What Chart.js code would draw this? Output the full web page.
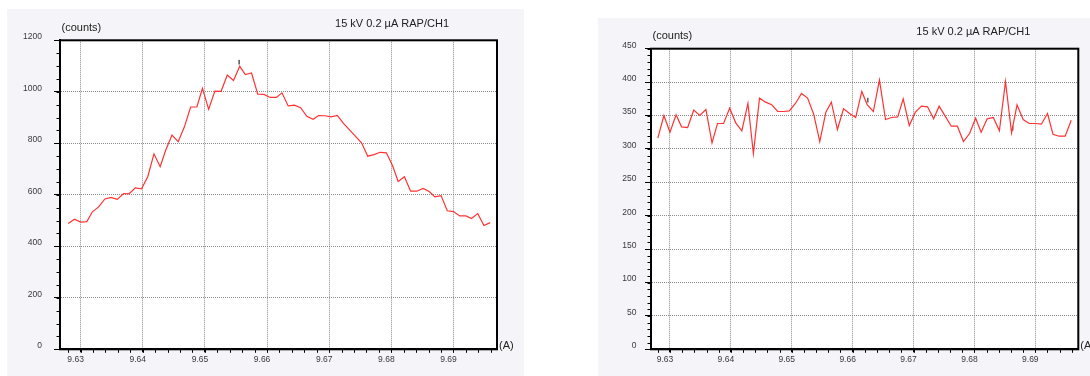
<!DOCTYPE html>
<html>
<head>
<meta charset="utf-8">
<script src="https://cdn.jsdelivr.net/npm/chart.js@4.4.0/dist/chart.umd.min.js"></script>
<style>
  body { margin: 0; background: #fff; width: 1090px; height: 376px; overflow: hidden; position: relative; }
  canvas { position: absolute; background: #f4f4f9; }
  #left { left: 7px; top: 9px; }
  #right { left: 598px; top: 18px; }
</style>
</head>
<body>
<canvas id="left" width="517" height="367"></canvas>
<canvas id="right" width="492" height="358"></canvas>
<script>
// wavelength (A) of each channel, shared by both scans
const wavelengths = [
  9.6280, 9.6290, 9.6300, 9.6310, 9.6319, 9.6329, 9.6339, 9.6349, 9.6359, 9.6369,
  9.6378, 9.6388, 9.6398, 9.6408, 9.6418, 9.6428, 9.6437, 9.6447, 9.6457, 9.6467,
  9.6477, 9.6487, 9.6496, 9.6506, 9.6516, 9.6526, 9.6536, 9.6546, 9.6556, 9.6565,
  9.6575, 9.6585, 9.6595, 9.6605, 9.6615, 9.6624, 9.6634, 9.6644, 9.6654, 9.6664,
  9.6674, 9.6683, 9.6693, 9.6703, 9.6713, 9.6723, 9.6733, 9.6742, 9.6752, 9.6762,
  9.6772, 9.6782, 9.6792, 9.6802, 9.6811, 9.6821, 9.6831, 9.6841, 9.6851, 9.6861,
  9.6870, 9.6880, 9.6890, 9.6900, 9.6910, 9.6920, 9.6929, 9.6939, 9.6949, 9.6959
];

// left scan: peak
const leftCounts = [
  489, 505, 494, 496, 534, 553, 584, 590, 582, 605,
  604, 627, 623, 670, 759, 709, 774, 832, 806, 864,
  941, 941, 1013, 932, 1003, 1002, 1065, 1044, 1099, 1067,
  1073, 991, 990, 978, 978, 996, 945, 948, 938, 905,
  893, 908, 907, 903, 908, 877, 851, 828, 802, 750,
  756, 765, 763, 713, 652, 670, 614, 614, 625, 613,
  592, 597, 538, 535, 518, 518, 508, 527, 481, 492
];

// right scan: background
const rightCounts = [
  316, 350, 325, 351, 333, 332, 358, 350, 359, 309,
  338, 338, 361, 339, 327, 368, 293, 376, 370, 366,
  356, 356, 357, 368, 383, 376, 352, 311, 355, 370,
  329, 360, 353, 347, 386, 366, 356, 403, 344, 347,
  348, 375, 335, 355, 364, 363, 345, 364, 349, 334,
  334, 311, 323, 346, 325, 345, 347, 327, 401, 324,
  366, 344, 338, 338, 337, 353, 322, 319, 319, 343
];

// small black cursor marks
const leftMarkX = [9.6555];
const leftMarkY = [1115];
const rightMarkX = [9.6625, 9.6863];
const rightMarkY = [373, 331];

const xTicks = [9.63, 9.64, 9.65, 9.66, 9.67, 9.68, 9.69];
const leftYTicks = [0, 200, 400, 600, 800, 1000, 1200];
const rightYTicks = [0, 50, 100, 150, 200, 250, 300, 350, 400, 450];

const titleText = '15 kV 0.2 µA RAP/CH1';
const yUnit = '(counts)';
const xUnit = '(A)';

Chart.defaults.font.family = '"Liberation Sans", Arial, sans-serif';

const framePlugin = {
  id: 'frame',
  beforeDraw(chart) {
    const {ctx, chartArea: a} = chart;
    ctx.save();
    ctx.fillStyle = '#fff';
    ctx.fillRect(a.left, a.top, a.right - a.left, a.bottom - a.top);
    ctx.restore();
  },
  afterDraw(chart, args, opts) {
    const {ctx, chartArea: a, scales: {x, y}} = chart;
    ctx.save();
    ctx.strokeStyle = '#000';
    ctx.lineWidth = 1;
    ctx.beginPath();
    // minor ticks
    for (let k = 0; k * opts.yMinor <= y.max; k++) {
      const py = Math.round(y.getPixelForValue(k * opts.yMinor)) + 0.5;
      ctx.moveTo(a.left - 3.5, py);
      ctx.lineTo(a.left, py);
    }
    const k0 = Math.ceil(x.min / opts.xMinor - 1e-6);
    const k1 = Math.floor(x.max / opts.xMinor + 1e-6);
    for (let k = k0; k <= k1; k++) {
      const px = Math.round(x.getPixelForValue(k * opts.xMinor)) + 0.5;
      ctx.moveTo(px, a.bottom);
      ctx.lineTo(px, a.bottom + 3.5);
    }
    ctx.stroke();
    ctx.lineWidth = 2;
    ctx.strokeRect(a.left, a.top, a.right - a.left, a.bottom - a.top);

    ctx.fillStyle = '#222';
    ctx.font = '11px "Liberation Sans", Arial, sans-serif';
    ctx.textBaseline = 'middle';
    ctx.textAlign = 'left';
    ctx.fillText(yUnit, a.left + 1.5, a.top - 12.3);
    ctx.fillText(xUnit, a.right + 2, a.bottom - 3.5);
    ctx.textAlign = 'right';
    ctx.fillText(titleText, a.right - 48, a.top - 16.4);
    ctx.restore();
  }
};

function makeChart(id, counts, markX, markY, yTicks, cfg) {
  const line = wavelengths.map((w, i) => ({x: w, y: counts[i]}));
  const marks = markX.map((w, i) => ({x: w, y: markY[i]}));
  return new Chart(document.getElementById(id), {
    type: 'line',
    data: {
      datasets: [{
        data: line,
        borderColor: '#ff3333',
        borderWidth: 1.2,
        pointRadius: 0,
        tension: 0,
        fill: false
      }, {
        type: 'scatter',
        data: marks,
        pointStyle: 'line',
        rotation: 90,
        pointRadius: 2.3,
        borderColor: '#000',
        borderWidth: 1
      }]
    },
    options: {
      responsive: false,
      animation: false,
      devicePixelRatio: 1,
      layout: {padding: {left: 0, top: cfg.padTop, right: cfg.padRight, bottom: 0}},
      plugins: {
        legend: {display: false},
        tooltip: {enabled: false},
        frame: {xMinor: 0.002, yMinor: cfg.yMinor}
      },
      scales: {
        x: {
          type: 'linear',
          min: cfg.xMin,
          max: cfg.xMax,
          afterBuildTicks: s => { s.ticks = xTicks.map(v => ({value: v})); },
          afterFit: s => { s.height = 26.7; },
          grid: {color: '#8a8a8a', lineWidth: 1, tickLength: 3, tickColor: '#000'},
          border: {color: '#000', width: 2, dash: [1, 1]},
          ticks: {
            font: {size: 8.5}, color: '#3a3a3a', padding: 2, labelOffset: -5,
            maxRotation: 0, autoSkip: false,
            callback: v => v.toFixed(2)
          }
        },
        y: {
          type: 'linear',
          min: 0,
          max: cfg.yMax,
          afterBuildTicks: s => { s.ticks = yTicks.map(v => ({value: v})); },
          afterFit: s => { s.width = 53; },
          grid: {color: '#8a8a8a', lineWidth: 1, tickLength: 6, tickColor: '#000'},
          border: {color: '#000', width: 2, dash: [1, 1]},
          ticks: {
            font: {size: 8.5}, color: '#3a3a3a', padding: cfg.yPad, labelOffset: -3.5,
            autoSkip: false,
            callback: v => String(v)
          }
        }
      }
    },
    plugins: [framePlugin]
  });
}

makeChart('left', leftCounts, leftMarkX, leftMarkY, leftYTicks,
  {xMin: 9.62668, xMax: 9.6970, yMax: 1200, yMinor: 50, padTop: 31.3, padRight: 27, yPad: 12});
makeChart('right', rightCounts, rightMarkX, rightMarkY, rightYTicks,
  {xMin: 9.62688, xMax: 9.69706, yMax: 450, yMinor: 10, padTop: 30.7, padRight: 11.7, yPad: 8.5});
</script>
</body>
</html>
